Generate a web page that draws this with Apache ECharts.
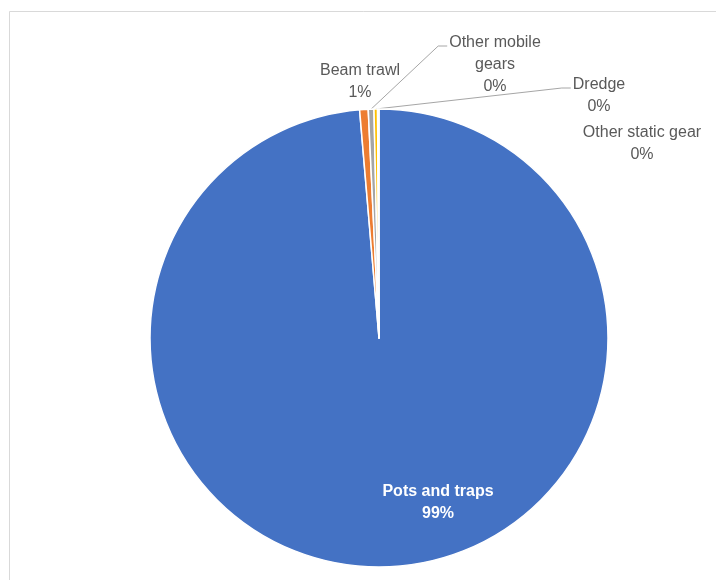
<!DOCTYPE html>
<html>
<head>
<meta charset="utf-8">
<script src="https://cdn.jsdelivr.net/npm/echarts@6/dist/echarts.min.js"></script>
<style>
  html, body { margin: 0; padding: 0; background: #ffffff; }
  #chart { width: 716px; height: 580px; }
</style>
</head>
<body>
<div id="chart"></div>
<script>
// Share of landings by gear type (%)
const gears = ['Pots and traps', 'Beam trawl', 'Other mobile gears', 'Dredge', 'Other static gear'];
const shares = [98.65, 0.6, 0.4, 0.25, 0.1];

// Office-style palette, one colour per gear
const gearColors = ['#4472C4', '#ED7D31', '#A5A5A5', '#FFC000', '#5B9BD5'];

// Text shown for each slice label (line breaks where the label wraps)
const labelNames = ['Pots and traps', 'Beam trawl', 'Other mobile\ngears', 'Dredge', 'Other static gear'];

// Label block centres and whether a leader line is drawn
const labelSpots = [[438, 503], [360, 82], [495, 65], [599, 96], [642, 144]];
const withLeader = [false, false, true, true, false];

const LINE_H = 22;

const chart = echarts.init(document.getElementById('chart'), null, { renderer: 'canvas' });

const pieData = gears.map((name, i) => {
  const item = {
    name: name,
    value: shares[i],
    itemStyle: { color: gearColors[i] },
    labelLine: { show: withLeader[i] }
  };
  if (i === 0) {
    item.label = { position: 'inside', color: '#ffffff', fontWeight: 'bold' };
  }
  return item;
});

chart.setOption({
  animation: false,
  backgroundColor: '#ffffff',
  graphic: [{
    type: 'rect',
    shape: { x: 9.5, y: 11.5, width: 760, height: 640 },
    style: { fill: 'none', stroke: '#D9D9D9', lineWidth: 1 },
    silent: true
  }],
  series: [{
    type: 'pie',
    center: [379, 338],
    radius: 229,
    startAngle: 90,
    clockwise: true,
    avoidLabelOverlap: false,
    itemStyle: { borderColor: '#ffffff', borderWidth: 1.5 },
    label: {
      show: true,
      position: 'outside',
      fontFamily: '"Liberation Sans", Arial, sans-serif',
      fontSize: 16,
      lineHeight: LINE_H,
      color: '#595959',
      align: 'center',
      formatter: p => labelNames[p.dataIndex] + '\n' + Math.round(p.percent) + '%'
    },
    labelLine: {
      show: true,
      lineStyle: { color: '#A6A6A6', width: 1 }
    },
    labelLayout: function (params) {
      const i = params.dataIndex;
      const spot = labelSpots[i];
      const out = { x: spot[0], y: spot[1], align: 'center', verticalAlign: 'middle' };
      if (withLeader[i] && params.labelLinePoints) {
        const r = params.labelRect;
        const left = spot[0] - r.width / 2;
        const lineY = spot[1] - r.height / 2 + LINE_H / 2 + 3;
        const endX = left - 2;
        out.labelLinePoints = [
          params.labelLinePoints[0],
          [endX - 9, lineY],
          [endX, lineY]
        ];
      }
      return out;
    },
    data: pieData
  }]
});
</script>
</body>
</html>
